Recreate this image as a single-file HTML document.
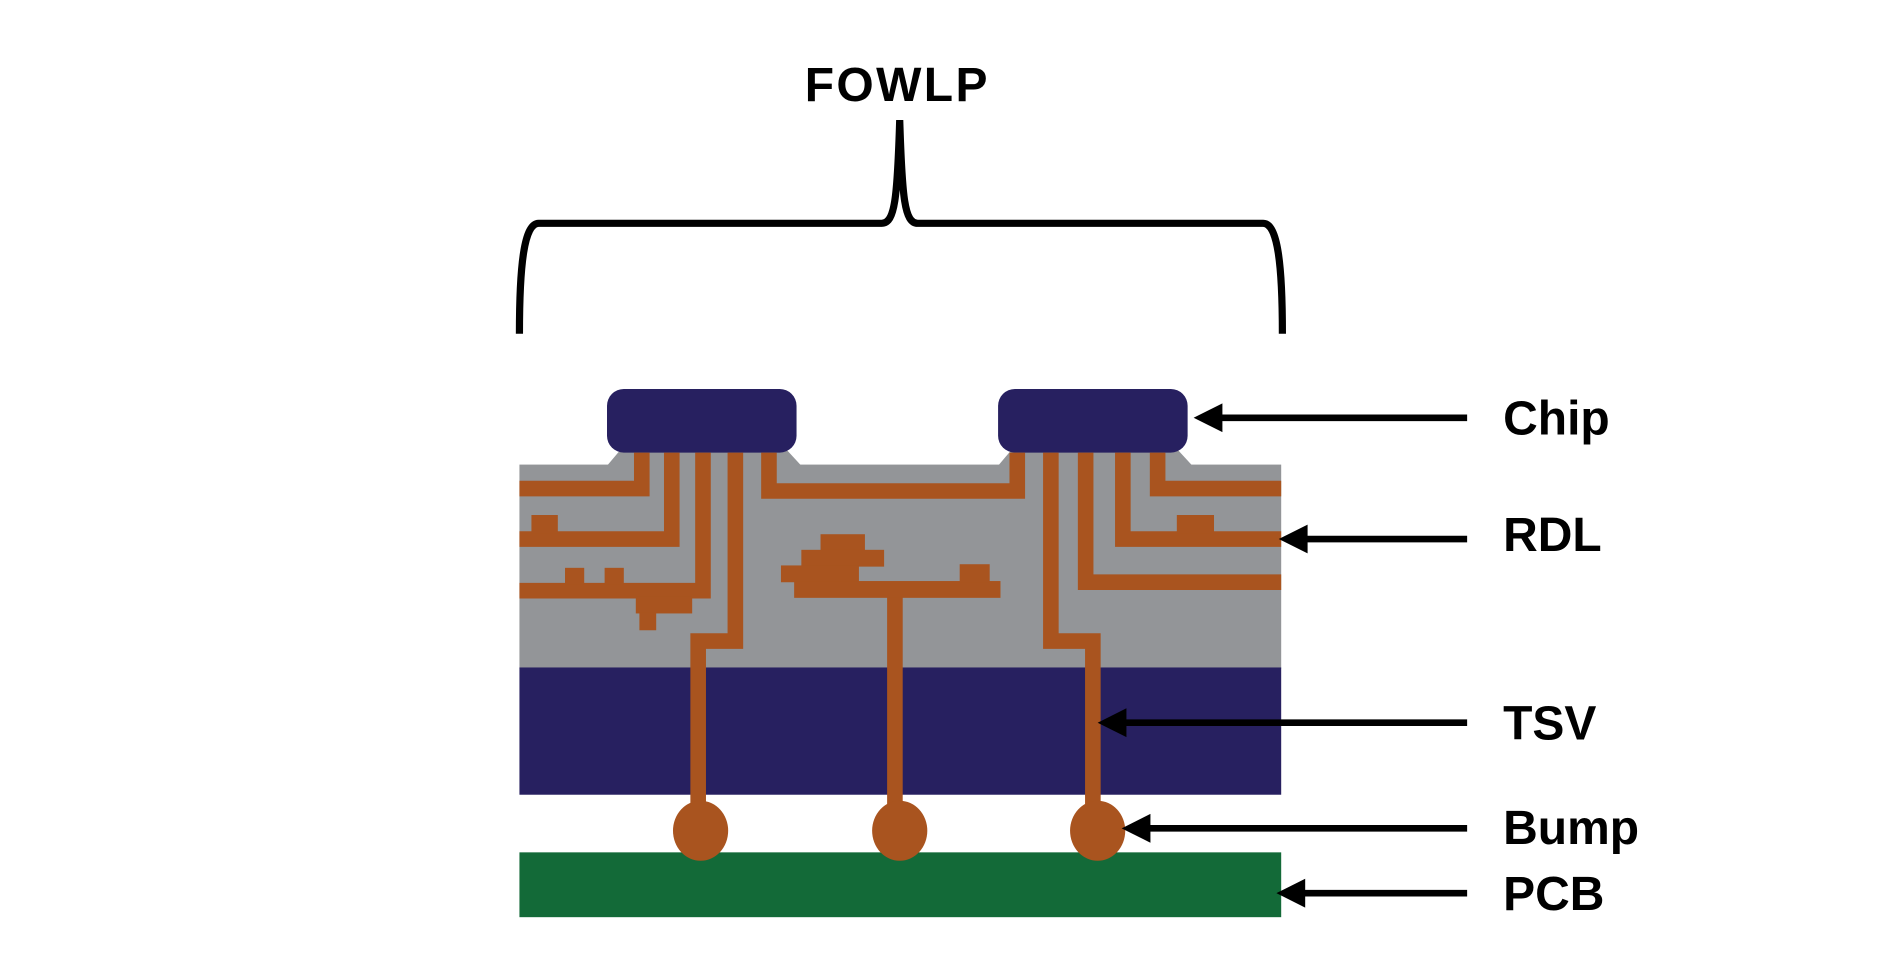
<!DOCTYPE html>
<html><head><style>html,body{margin:0;padding:0;background:#fff;}svg{display:block;}</style></head>
<body>
<svg width="1881" height="976" viewBox="0 0 1568 813" preserveAspectRatio="none" xmlns="http://www.w3.org/2000/svg">
<rect width="1568" height="813" fill="#fff"/>
<text x="748" y="84" text-anchor="middle" font-family="Liberation Sans, sans-serif" font-weight="bold" font-size="40" letter-spacing="2">FOWLP</text>
<path d="M433,278 C433,220 437,186 449,186 L735,186 C746,186 748,165 750,100 C752,165 754,186 765,186 L1053,186 C1065,186 1069,220 1069,278" fill="none" stroke="#000" stroke-width="6"/>
<rect x="433" y="387" width="635" height="170" fill="#939598"/>
<polygon points="517,375 656,375 668,388 506,388" fill="#939598"/>
<polygon points="843,375 982,375 994,388 832,388" fill="#939598"/>
<rect x="433" y="556" width="635" height="106" fill="#272060"/>
<rect x="433" y="710" width="635" height="54" fill="#136a38"/>
<rect x="506" y="324" width="158" height="53" rx="14" fill="#272060"/>
<rect x="832" y="324" width="158" height="53" rx="14" fill="#272060"/>
<g fill="none" stroke="#a9541f" stroke-width="13" stroke-linejoin="miter">
<polyline points="535,377 535,407 433,407"/>
<polyline points="560,377 560,449 433,449"/>
<polyline points="586,377 586,492 433,492"/>
<polyline points="613,377 613,534 582,534 582,672"/>
<polyline points="641,377 641,409 848,409 848,377"/>
<polyline points="876,377 876,534 911,534 911,672"/>
<polyline points="905,377 905,485 1068,485"/>
<polyline points="936,377 936,449 1068,449"/>
<polyline points="965,377 965,407 1068,407"/>
<line x1="746" y1="490" x2="746" y2="672"/>
</g>
<g fill="#a9541f">
<rect x="443" y="429" width="22" height="15"/>
<rect x="981" y="429" width="31" height="15"/>
<rect x="471" y="473" width="16" height="14"/>
<rect x="504" y="473" width="16" height="14"/>
<rect x="530" y="497" width="47" height="14"/>
<rect x="533" y="510" width="14" height="15"/>
<rect x="684" y="445" width="37" height="14"/>
<rect x="668" y="458" width="69" height="14"/>
<rect x="651" y="471" width="65" height="14"/>
<rect x="662" y="484" width="172" height="14"/>
<rect x="800" y="470" width="25" height="15"/>
<ellipse cx="584" cy="692" rx="23" ry="25"/>
<ellipse cx="750" cy="692" rx="23" ry="25"/>
<ellipse cx="915" cy="692" rx="23" ry="25"/>
</g>
<g stroke="#000" stroke-width="5.5">
<line x1="1223" y1="348" x2="1015" y2="348"/>
<line x1="1223" y1="449" x2="1086" y2="449"/>
<line x1="1223" y1="602" x2="935" y2="602"/>
<line x1="1223" y1="690" x2="955" y2="690"/>
<line x1="1223" y1="744" x2="1084" y2="744"/>
</g>
<g fill="#000">
<polygon points="995,348 1019,336 1019,360"/>
<polygon points="1066,449 1090,437 1090,461"/>
<polygon points="915,602 939,590 939,614"/>
<polygon points="935,690 959,678 959,702"/>
<polygon points="1064,744 1088,732 1088,756"/>
</g>
<g font-family="Liberation Sans, sans-serif" font-weight="bold" font-size="40">
<text x="1253" y="362">Chip</text>
<text x="1253" y="459">RDL</text>
<text x="1253" y="616">TSV</text>
<text x="1253" y="703">Bump</text>
<text x="1253" y="758">PCB</text>
</g>
</svg>
</body></html>
